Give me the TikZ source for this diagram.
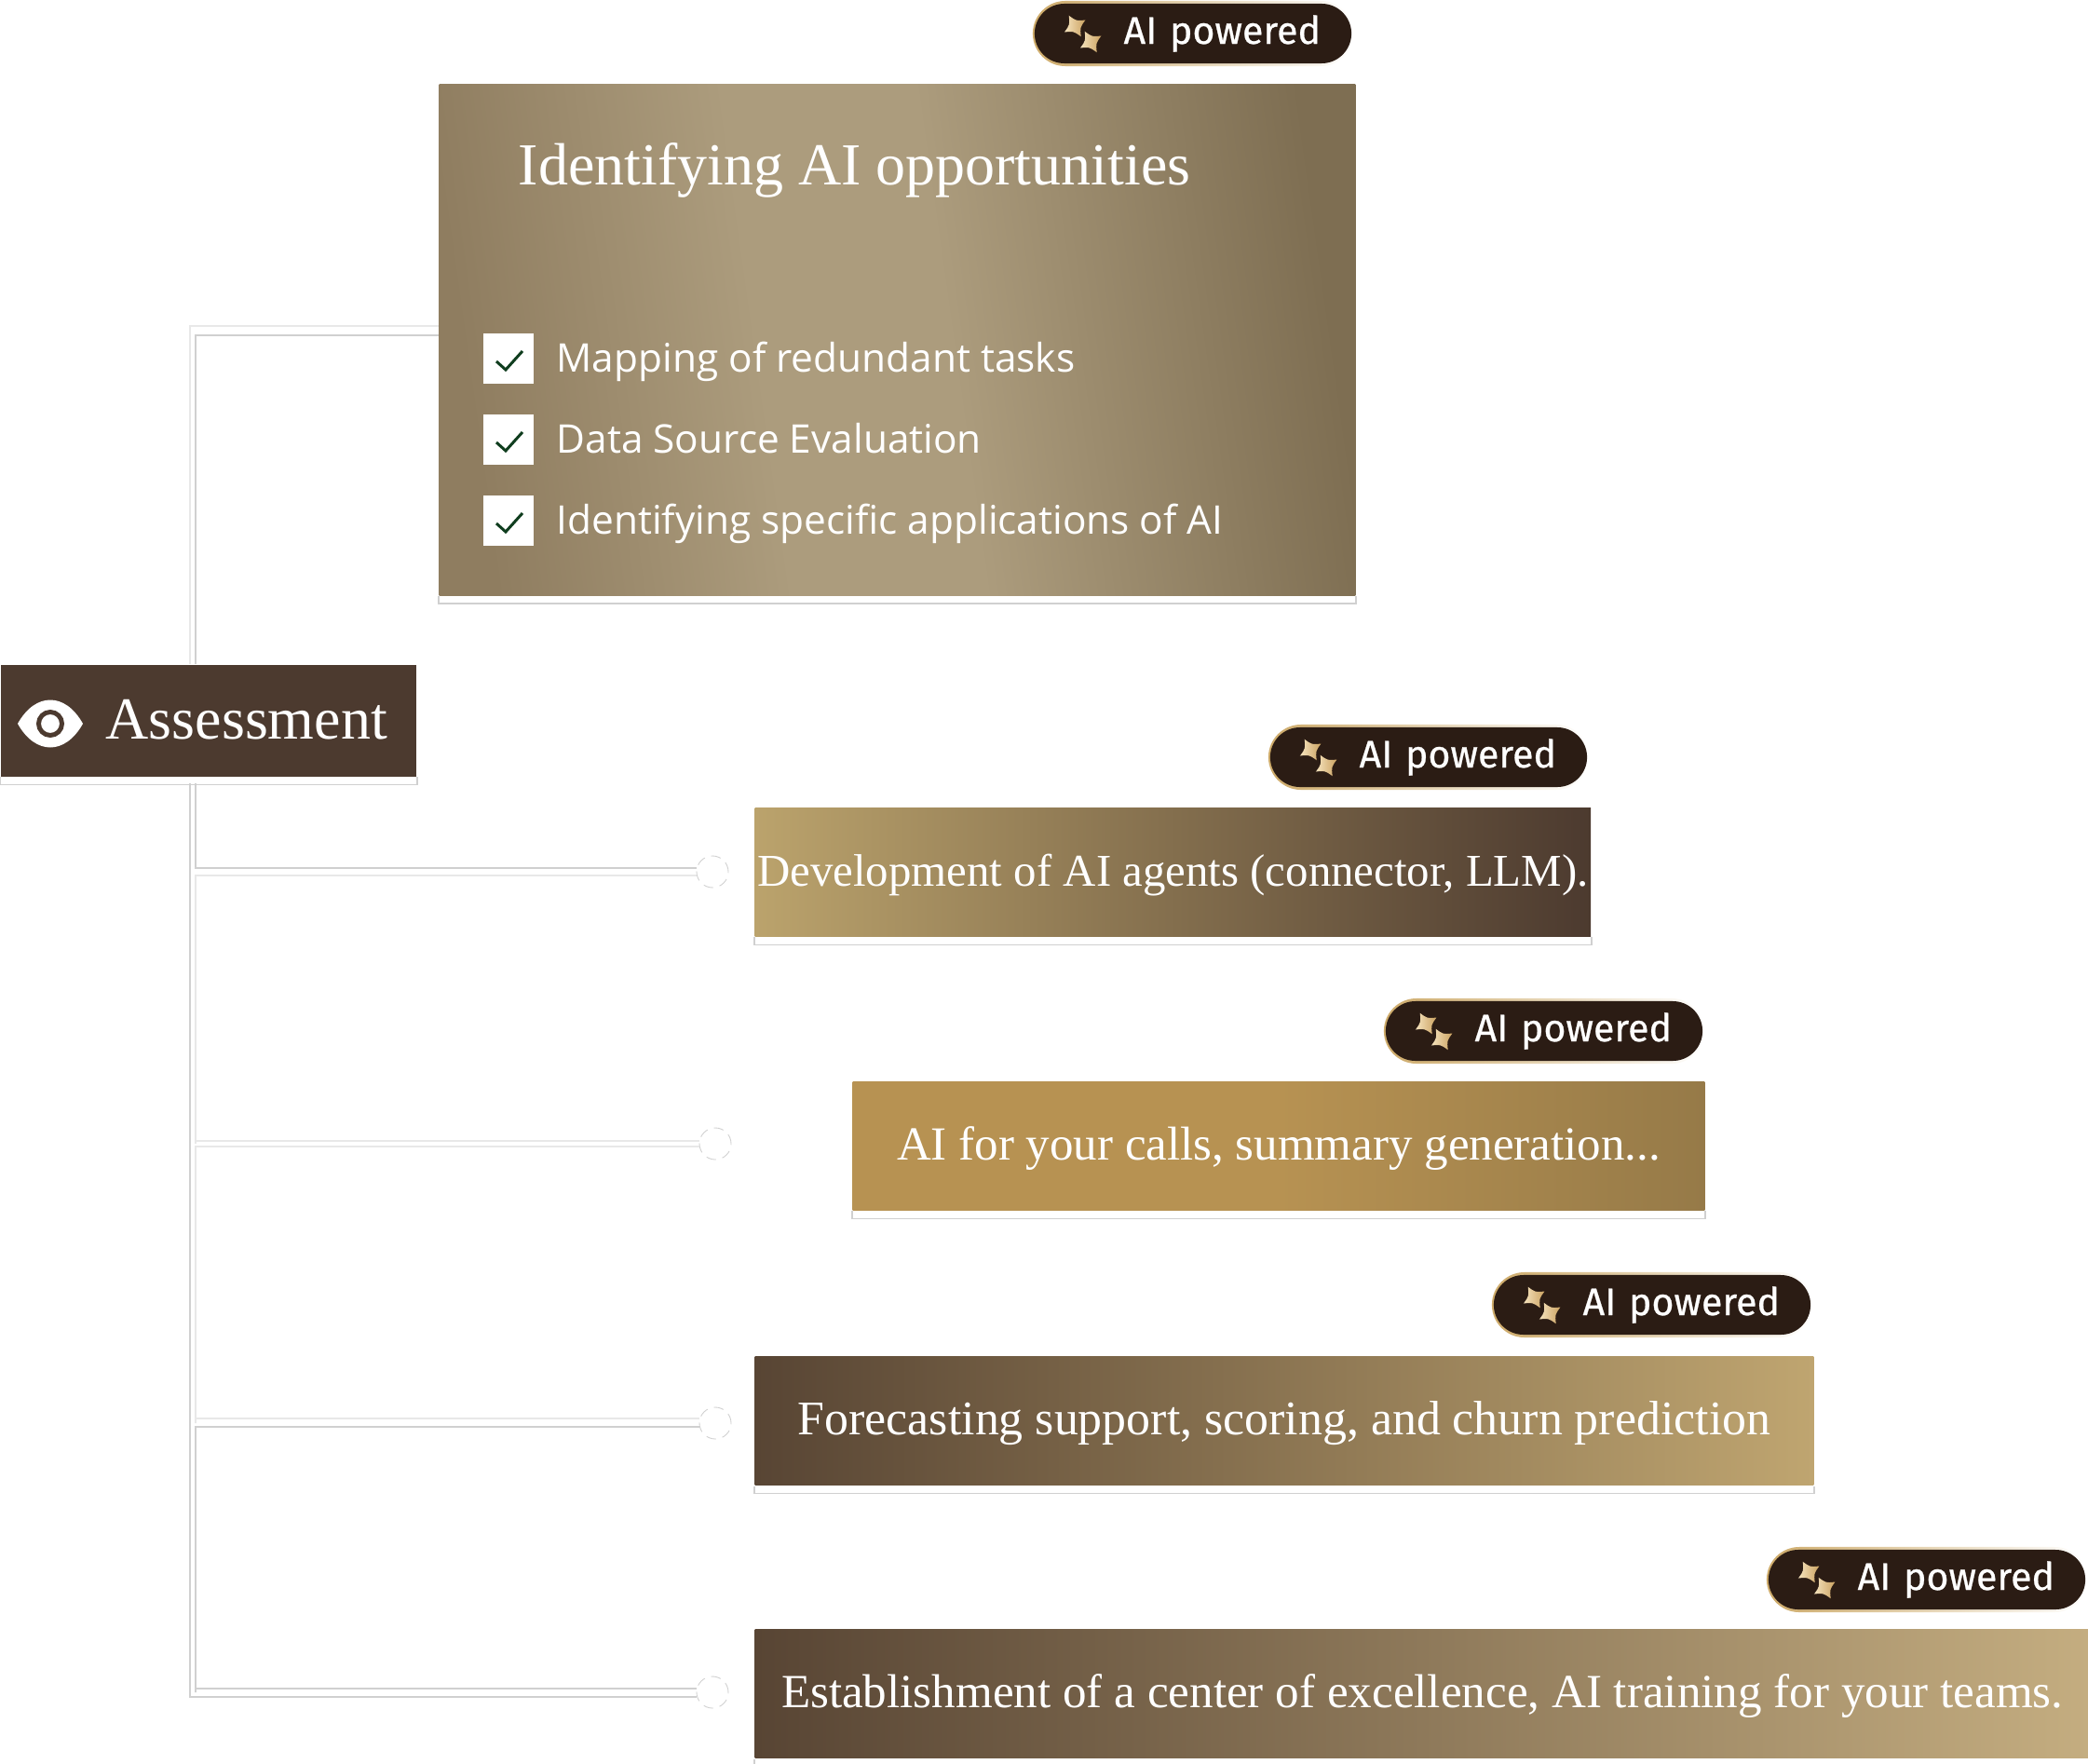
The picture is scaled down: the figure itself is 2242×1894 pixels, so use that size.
\documentclass[tikz,border=0pt]{standalone}
\usepackage{fontspec}
\usepackage{xcolor}
\usepackage{tikz}
\usetikzlibrary{shapes,positioning,calc}
\setmainfont{Liberation Serif}
\newfontfamily\uifont{Open Sans}
\newfontfamily\badgefont{Fira Sans}[FakeBold=0.6,WordSpace=0.5]
\definecolor{asBrown}{RGB}{76,58,47}
\definecolor{asDark}{RGB}{43,28,20}
\definecolor{asGold}{RGB}{205,170,105}
\definecolor{asCream}{RGB}{246,228,190}
\definecolor{asTick}{RGB}{15,61,30}
\definecolor{wireDark}{RGB}{208,208,208}
\definecolor{wireLight}{RGB}{232,232,232}
\definecolor{mainLeft}{RGB}{143,125,96}
\definecolor{mainMid}{RGB}{172,156,125}
\definecolor{mainRight}{RGB}{126,110,82}
\definecolor{devLeft}{RGB}{187,163,108}
\definecolor{callsLeft}{RGB}{183,146,82}
\definecolor{callsRight}{RGB}{150,122,72}
\definecolor{foreLeft}{RGB}{88,69,52}
\definecolor{foreRight}{RGB}{191,165,112}
\definecolor{estRight}{RGB}{196,173,128}
\pgfdeclarehorizontalshading{mainShade}{100bp}{color(0bp)=(mainLeft); color(25bp)=(mainLeft); color(42bp)=(mainMid); color(53bp)=(mainMid); color(75bp)=(mainRight); color(100bp)=(mainRight)}
\tikzset{
    card/.style={rectangle, anchor=north west, inner sep=0pt, text=white, text height=11pt, text depth=2.6pt, font=\fontsize{#1}{18}\selectfont},
    cardEdge/.style={draw=wireDark, line width=0.5pt},
    wireA/.style={draw=wireDark, line width=0.55pt},
    wireB/.style={draw=wireLight, line width=0.55pt},
    dot/.style={circle, draw=wireDark, densely dashed, line width=0.25pt, fill=white, minimum size=0.34cm, inner sep=0pt},
    pillEdge/.style={rectangle, rounded corners=0.35cm, minimum width=3.44cm, minimum height=0.70cm, left color=asGold, right color=white},
    pill/.style={rectangle, rounded corners=0.32cm, minimum height=0.64cm, text width=2.74cm, inner xsep=0.33cm, inner ysep=0pt, align=right, fill=asDark, text=white, font=\badgefont\fontsize{11.7}{15}\selectfont},
    checkbox/.style={rectangle, fill=white, minimum size=0.54cm, inner sep=0pt},
    tick/.style={draw=asTick, line width=0.85pt},
    item/.style={anchor=base west, inner sep=0pt, text=white, font=\uifont\fontsize{12.05}{15}\selectfont},
    sparkle/.pic={
        \shade[rotate=30, left color=asCream, right color=asGold!80!brown]
            (0,-13) .. controls (4,-4) .. (13,0) .. controls (4,4) .. (0,13)
            .. controls (-4,4) .. (-13,0) .. controls (-4,-4) .. (0,-13);
    }
}
\begin{document}
\begin{tikzpicture}[x=0.01cm,y=-0.01cm]
    \useasboundingbox (0,0) rectangle (2242,1894);

    % Bus positions and free ends at the top box
    \coordinate (busOut) at (204,0);
    \coordinate (busIn) at (210,0);
    \coordinate (topOut) at (471,350);
    \coordinate (topIn) at (471,360);

    % Assessment block
    \node[rectangle, anchor=north west, fill=asBrown, text=white, minimum height=1.2cm, text width=3.84cm, inner xsep=0.31cm, inner ysep=0pt, text height=14pt, text depth=2.6pt, align=right, font=\fontsize{18.2}{24}\selectfont] (assess) at (0,713) {Assessment};

    % Top card
    \node[card=15, minimum width=9.83cm, minimum height=5.48cm, shading=mainShade, shading angle=8] (cardMain) at (471,90) {};
    \node[anchor=base west, inner sep=0pt, text=white, font=\fontsize{18.2}{26}\selectfont] (title) at (556,199) {Identifying AI opportunities};

    % Checklist
    \foreach \n/\y/\t in {a/385/Mapping of redundant tasks, b/472/Data Source Evaluation, c/559/Identifying specific applications of AI} {
        \node[checkbox] (check\n) at (546,\y) {};
        \draw[tick] ($(check\n)+(-13,3)$) -- ($(check\n)+(-3,12)$) -- ($(check\n)+(15,-8)$);
        \node[item] (item\n) at (597,\y+14) {\t};
    }

    % Smaller cards
    \node[card=13.9, minimum width=8.97cm, minimum height=1.38cm, left color=devLeft, right color=asBrown] (cardDev) at (810,867) {Development of AI agents (connector, LLM).};
    \node[card=14.5, minimum width=9.14cm, minimum height=1.38cm, left color=callsLeft, right color=callsRight, middle color=callsLeft] (cardCalls) at (915,1161) {AI for your calls, summary generation...};
    \node[card=14.75, minimum width=11.36cm, minimum height=1.38cm, left color=foreLeft, right color=foreRight] (cardFore) at (810,1456) {Forecasting support, scoring, and churn prediction};
    \node[card=14.53, minimum width=14.32cm, minimum height=1.38cm, left color=foreLeft, right color=estRight] (cardEst) at (810,1749) {Establishment of a center of excellence, AI training for your teams.};

    % Soft edge under each block
    \foreach \c in {assess, cardMain, cardDev, cardCalls, cardFore, cardEst} {
        \draw[cardEdge] (\c.south west) -- ([yshift=-0.08cm]\c.south west) -- ([yshift=-0.08cm]\c.south east) -- (\c.south east);
    }

    % Dots
    \node[dot] (dotDev) at (765,936) {};
    \node[dot] (dotCalls) at (768,1228) {};
    \node[dot] (dotFore) at (768,1528) {};
    \node[dot] (dotEst) at (765,1817) {};

    % Connectors
    \draw[wireB] (busOut |- assess.north) |- (topOut);
    \draw[wireA] (busIn |- assess.north) |- (topIn);
    \draw[wireA] (busOut |- assess.south) ++(0,7) |- ([yshift=-0.05cm]dotEst.west);
    \draw[wireA] (busIn |- assess.south) ++(0,7) |- ([yshift=0.04cm]dotDev.west);
    \draw[wireB] ([yshift=-0.04cm]dotDev.west) -| (busIn |- dotCalls) |- ([yshift=0.03cm]dotCalls.west);
    \draw[wireB] ([yshift=-0.03cm]dotCalls.west) -| (busIn |- dotFore) |- ([yshift=0.05cm]dotFore.west);
    \draw[wireA] ([yshift=-0.04cm]dotFore.west) -| (busIn |- dotEst) |- ([yshift=0.04cm]dotEst.west);

    % AI badges
    \foreach \n/\x/\y in {a/1281/36, b/1534/813, c/1658/1107, d/1774/1401, e/2069/1696} {
        \node[pillEdge] (edge\n) at (\x,\y) {};
        \node[pill] (badge\n) at (\x,\y) {AI powered};
        \pic at ($(badge\n.west)+(44,-8)$) {sparkle};
        \pic at ($(badge\n.west)+(61,9)$) {sparkle};
    }

    % Eye
    \fill[white] (19,777) .. controls (38,743) and (70,743) .. (89,777) .. controls (70,811) and (38,811) .. (19,777) -- cycle;
    \draw[asBrown, line width=1.4pt] (54,777) circle (12.5);

\end{tikzpicture}
\end{document}
